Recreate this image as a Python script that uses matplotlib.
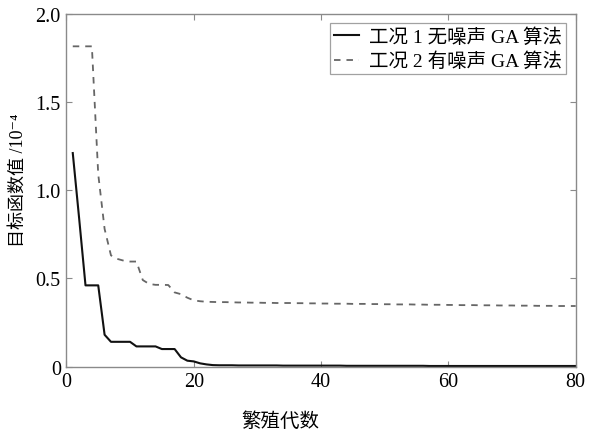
import matplotlib
matplotlib.use("Agg")
import matplotlib.pyplot as plt

plt.rcParams['font.family'] = ['Liberation Serif', 'Noto Sans CJK SC', 'DejaVu Sans']

# Best objective value per generation (units of 1e-4)
generations = list(range(1, 81))

case1_no_noise = [
    1.21, 0.84, 0.46, 0.46, 0.46, 0.18, 0.14, 0.14, 0.14, 0.14,
    0.114, 0.114, 0.114, 0.114, 0.099, 0.099, 0.099, 0.052, 0.033, 0.029,
    0.018, 0.012, 0.008, 0.007, 0.007, 0.007, 0.006, 0.006, 0.006, 0.006,
    0.006, 0.006, 0.006, 0.005, 0.005, 0.005, 0.005, 0.005, 0.005, 0.005,
    0.005, 0.005, 0.005, 0.004, 0.004, 0.004, 0.004, 0.004, 0.004, 0.004,
    0.004, 0.004, 0.004, 0.004, 0.004, 0.004, 0.003, 0.003, 0.003, 0.003,
    0.003, 0.003, 0.003, 0.003, 0.003, 0.003, 0.003, 0.003, 0.003, 0.003,
    0.003, 0.003, 0.003, 0.003, 0.003, 0.003, 0.003, 0.003, 0.003, 0.003,
]

case2_noise = [
    1.815, 1.815, 1.815, 1.815, 1.09, 0.78, 0.63, 0.61, 0.60, 0.595,
    0.595, 0.49, 0.468, 0.463, 0.463, 0.462, 0.42, 0.41, 0.39, 0.375,
    0.370, 0.367, 0.366, 0.365, 0.365, 0.364, 0.363, 0.363, 0.362, 0.362,
    0.361, 0.361, 0.360, 0.360, 0.360, 0.359, 0.359, 0.358, 0.358, 0.357,
    0.357, 0.356, 0.356, 0.356, 0.355, 0.355, 0.355, 0.354, 0.354, 0.353,
    0.353, 0.352, 0.352, 0.352, 0.351, 0.351, 0.350, 0.350, 0.350, 0.349,
    0.349, 0.348, 0.348, 0.348, 0.347, 0.347, 0.347, 0.346, 0.346, 0.346,
    0.345, 0.345, 0.345, 0.344, 0.344, 0.344, 0.343, 0.343, 0.343, 0.343,
]

series_labels = ["工况 1 无噪声 GA 算法", "工况 2 有噪声 GA 算法"]
x_ticks = [0, 20, 40, 60, 80]
y_ticks = [0, 0.5, 1.0, 1.5, 2.0]
y_tick_labels = ["0", "0.5", "1.0", "1.5", "2.0"]
x_label = "繁殖代数"
y_label = "目标函数值 /10⁻⁴"

fig = plt.figure(figsize=(6.02, 4.31), dpi=100)
ax = fig.add_axes([0.1103, 0.1473, 0.8460, 0.8186])

ax.plot(generations, case1_no_noise, color="#111111", lw=1.5, label=series_labels[0])
ax.plot(generations, case2_noise, color="#666666", lw=1.3, ls=(0, (3.6, 3.3)),
        label=series_labels[1])

ax.set_xlim(0, 80)
ax.set_ylim(0, 2.0)
ax.set_xticks(x_ticks)
ax.set_yticks(y_ticks)
ax.set_yticklabels(y_tick_labels)

for s in ax.spines.values():
    s.set_color("#8a8a8a")
    s.set_linewidth(1.0)
ax.tick_params(direction="in", top=True, right=True, length=4, width=0.8,
               color="#8a8a8a", labelsize=14.5, labelcolor="black", pad=4)

ax.set_xlabel(x_label, fontsize=14)
ax.xaxis.set_label_coords(0.42, -0.128)
ax.set_ylabel(y_label, fontsize=13)
ax.yaxis.set_label_coords(-0.078, 0.53)

leg = ax.legend(loc="upper right", fontsize=14, frameon=True, fancybox=False,
                edgecolor="#8a8a8a", handlelength=1.3, handletextpad=0.5,
                borderpad=0.2, labelspacing=0.3, borderaxespad=0.5)
leg.get_frame().set_linewidth(0.9)

fig.savefig("out.png", dpi=100)
